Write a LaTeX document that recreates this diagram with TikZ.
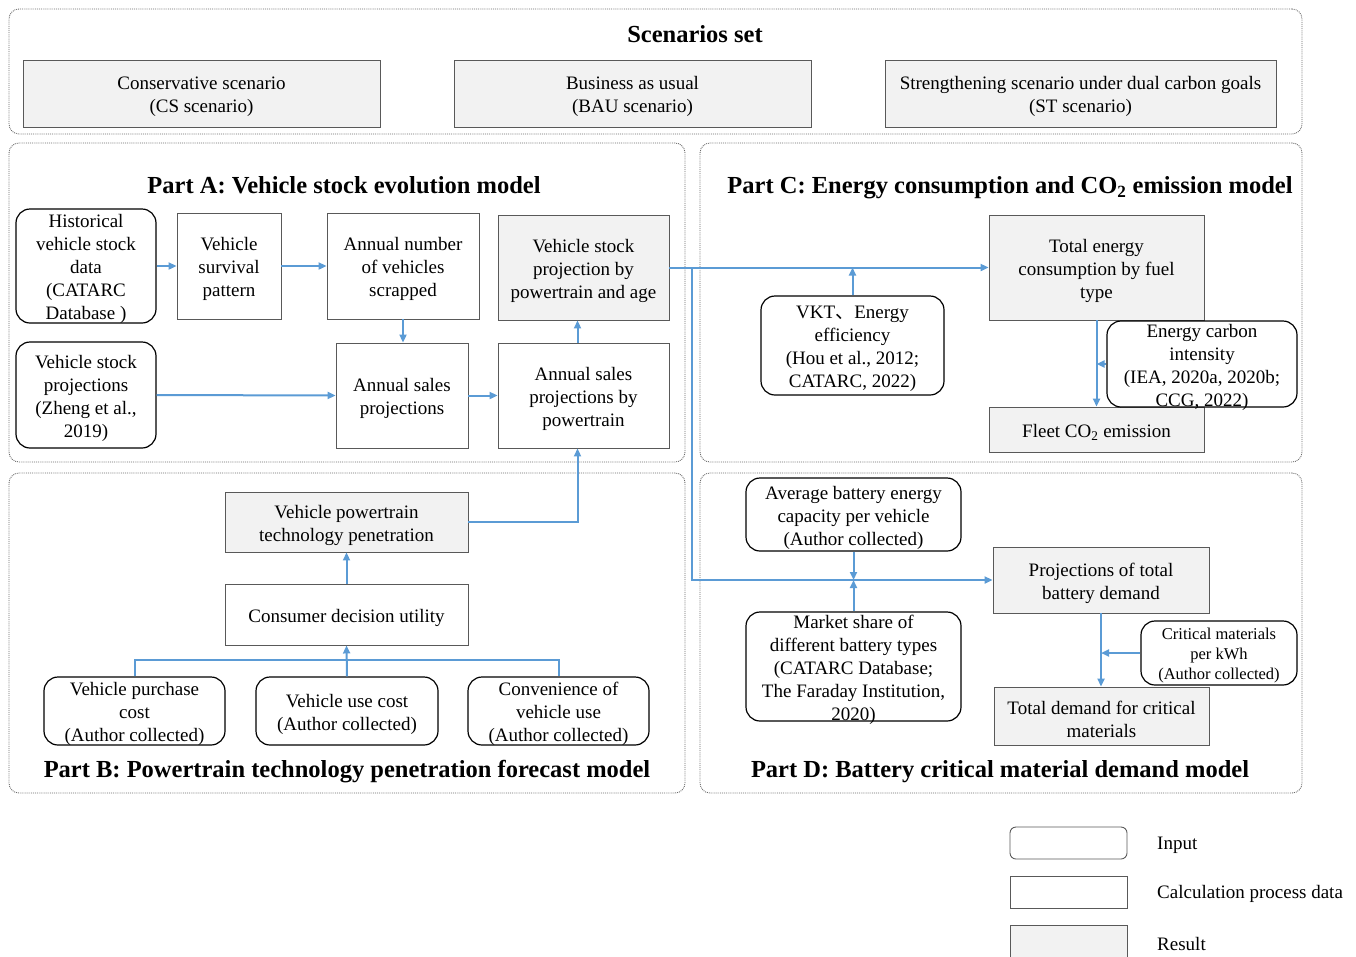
\documentclass[tikz,border=0pt]{standalone}
\usepackage{fontspec}
\setmainfont{Liberation Serif}
\newfontfamily\cjk{Noto Sans CJK SC}
\usetikzlibrary{arrows.meta}
\definecolor{lineblue}{HTML}{5B9BD5}
\definecolor{resgray}{HTML}{F2F2F2}
\definecolor{boxedge}{HTML}{595959}
\definecolor{framegray}{HTML}{6A6A6A}
% [#1 text style], #2 style, #3 width, #4 height, #5 name, #6 position, #7 text
\newcommand\mybox[7][]{%
  \node[#2, minimum width=#3pt, minimum height=#4pt] (#5) at (#6) {};
  \node[txt,#1] (#5-t) at ([yshift=-3pt]#5.center) {#7};}
\begin{document}
\begin{tikzpicture}[x=1pt,y=-1pt,
 every node/.style={font=\fontsize{19}{23}\selectfont, align=center, inner sep=0pt},
 txt/.style={},
 small/.style={font=\fontsize{16.5}{20}\selectfont},
 inbox/.style={draw=black, line width=1.2pt, rounded corners=14pt, fill=white},
 calcbox/.style={draw=boxedge, line width=0.9pt, fill=white},
 resbox/.style={draw=boxedge, line width=0.9pt, fill=resgray},
 part/.style={draw=framegray, densely dotted, line width=0.9pt, rounded corners=10pt},
 ttl/.style={font=\fontsize{24.5}{28}\selectfont\bfseries},
 arr/.style={draw=lineblue, line width=2pt, -{Triangle[length=8pt,width=7pt]}},
 ln/.style={draw=lineblue, line width=2pt},
]
\useasboundingbox (0,0) rectangle (1356,956);

% frames
\node[part, minimum width=1293pt, minimum height=125pt] (fscen) at (655.5,71.5) {};
\node[part, minimum width=676pt, minimum height=319pt] (fA) at (347,302.5) {};
\node[part, minimum width=602pt, minimum height=319pt] (fC) at (1001,302.5) {};
\node[part, minimum width=676pt, minimum height=320pt] (fB) at (347,633) {};
\node[part, minimum width=602pt, minimum height=320pt] (fD) at (1001,633) {};

% titles
\node[ttl] (tscen) at (695,34) {Scenarios set};
\node[ttl] (tA) at (344,185) {Part A: Vehicle stock evolution model};
\node[ttl] (tC) at (1010,187.5) {Part C: Energy consumption and CO\textsubscript{2} emission model};
\node[ttl] (tB) at (347,772) {Part B: Powertrain technology penetration forecast model};
\node[ttl] (tD) at (1000,772) {Part D: Battery critical material demand model};

% scenarios
\mybox{resbox}{357}{67}{cs}{201.5,93.5}{Conservative scenario\\(CS scenario)}
\mybox{resbox}{357}{67}{bau}{632.5,93.5}{Business as usual\\(BAU scenario)}
\mybox{resbox}{391}{67}{st}{1080.5,93.5}{Strengthening scenario under dual carbon goals\\(ST scenario)}

% Part A
\mybox{inbox}{140}{114}{hist}{86,266}{Historical\\vehicle stock\\data\\(CATARC\\Database )}
\mybox{calcbox}{104}{106}{surv}{229,266}{Vehicle\\survival\\pattern}
\mybox{calcbox}{152}{106}{scrap}{403,266}{Annual number\\of vehicles\\scrapped}
\mybox{resbox}{171}{105}{vsp}{583.5,267.5}{Vehicle stock\\projection by\\powertrain and age}
\mybox{inbox}{140}{106}{zheng}{86,395}{Vehicle stock\\projections\\(Zheng et al.,\\2019)}
\mybox{calcbox}{132}{105}{sales}{402,395.5}{Annual sales\\projections}
\mybox{calcbox}{171}{105}{salesp}{583.5,395.5}{Annual sales\\projections by\\powertrain}

% Part B
\mybox{resbox}{243}{60}{vptp}{346.5,522}{Vehicle powertrain\\technology penetration}
\mybox{calcbox}{243}{61}{cdu}{346.5,614.5}{Consumer decision utility}
\mybox{inbox}{181}{68}{purch}{134.5,711}{Vehicle purchase\\cost\\(Author collected)}
\mybox{inbox}{182}{68}{usec}{347,711}{Vehicle use cost\\(Author collected)}
\mybox{inbox}{181}{68}{conv}{558.5,711}{Convenience of\\vehicle use\\(Author collected)}

% Part C
\mybox{resbox}{215}{105}{te}{1096.5,267.5}{Total energy\\consumption by fuel\\type}
\mybox{inbox}{183}{99}{vkt}{852.5,345.5}{VKT{\cjk 、}Energy\\efficiency\\(Hou et al., 2012;\\CATARC, 2022)}
\mybox{resbox}{215}{45}{fleet}{1096.5,429.5}{Fleet CO\textsubscript{2} emission}
\mybox{inbox}{190}{86}{eci}{1202,364}{Energy carbon\\intensity\\(IEA, 2020a, 2020b;\\CCG, 2022)}

% Part D
\mybox{inbox}{215}{73}{avgb}{853.5,514.5}{Average battery energy\\capacity per vehicle\\(Author collected)}
\mybox{inbox}{215}{109}{mkt}{853.5,666.5}{Market share of\\different battery types\\(CATARC Database;\\The Faraday Institution,\\2020)}
\mybox{resbox}{216}{66}{pbat}{1101,580}{Projections of total\\battery demand}
\mybox[small]{inbox}{156}{64}{crit}{1219,653}{Critical materials\\per kWh\\(Author collected)}
\mybox{resbox}{215}{58}{tdem}{1101.5,716}{Total demand for critical\\materials}

% connectors Part A
\draw[arr] (hist.east) -- (surv.west);
\draw[arr] (surv.east) -- (scrap.west);
\draw[arr] (scrap.south) -- (scrap.south |- sales.north);
\draw[arr] (zheng.east) -- (sales.west);
\draw[arr] (sales.east) -- (salesp.west);
\draw[arr] ([xshift=-6pt]salesp.north) -- ([xshift=-6pt]vsp.south);
% Part B
\draw[arr] (vptp.east) -| ([xshift=-6pt]salesp.south);
\draw[arr] (cdu.north) -- (vptp.south);
\draw[ln] (purch.north) -- ++(0,-16) -| (conv.north);
\draw[arr] (usec.north) -- (cdu.south);
% Part C / D
\coordinate (br) at (692,267.5);
\draw[arr] (vsp.east) -- (te.west);
\draw[arr] (br) |- (pbat.west);
\draw[arr] (vkt.north) -- (vkt.north |- te.west);
\draw[arr] (te.south) -- (fleet.north);
\draw[arr] (eci.west) -- (te.south |- eci.west);
\draw[arr] (avgb.south) -- (avgb.south |- pbat.west);
\draw[arr] (mkt.north) -- (mkt.north |- pbat.west);
\draw[arr] (pbat.south) -- (pbat.south |- tdem.north);
\draw[arr] (crit.west) -- (pbat.south |- crit.west);

% legend
\node[inbox, rounded corners=6pt, line width=0.9pt, draw=boxedge, minimum width=117pt, minimum height=32pt] (lin) at (1068.5,843) {};
\node[calcbox, minimum width=117pt, minimum height=32pt] (lcalc) at (1068.5,892) {};
\node[resbox, minimum width=117pt, minimum height=32pt] (lres) at (1068.5,941) {};
\node[anchor=west] (tin) at (1157,845) {Input};
\node[anchor=west] (tcalc) at (1157,894) {Calculation process data};
\node[anchor=west] (tres) at (1157,944) {Result};
\end{tikzpicture}
\end{document}
